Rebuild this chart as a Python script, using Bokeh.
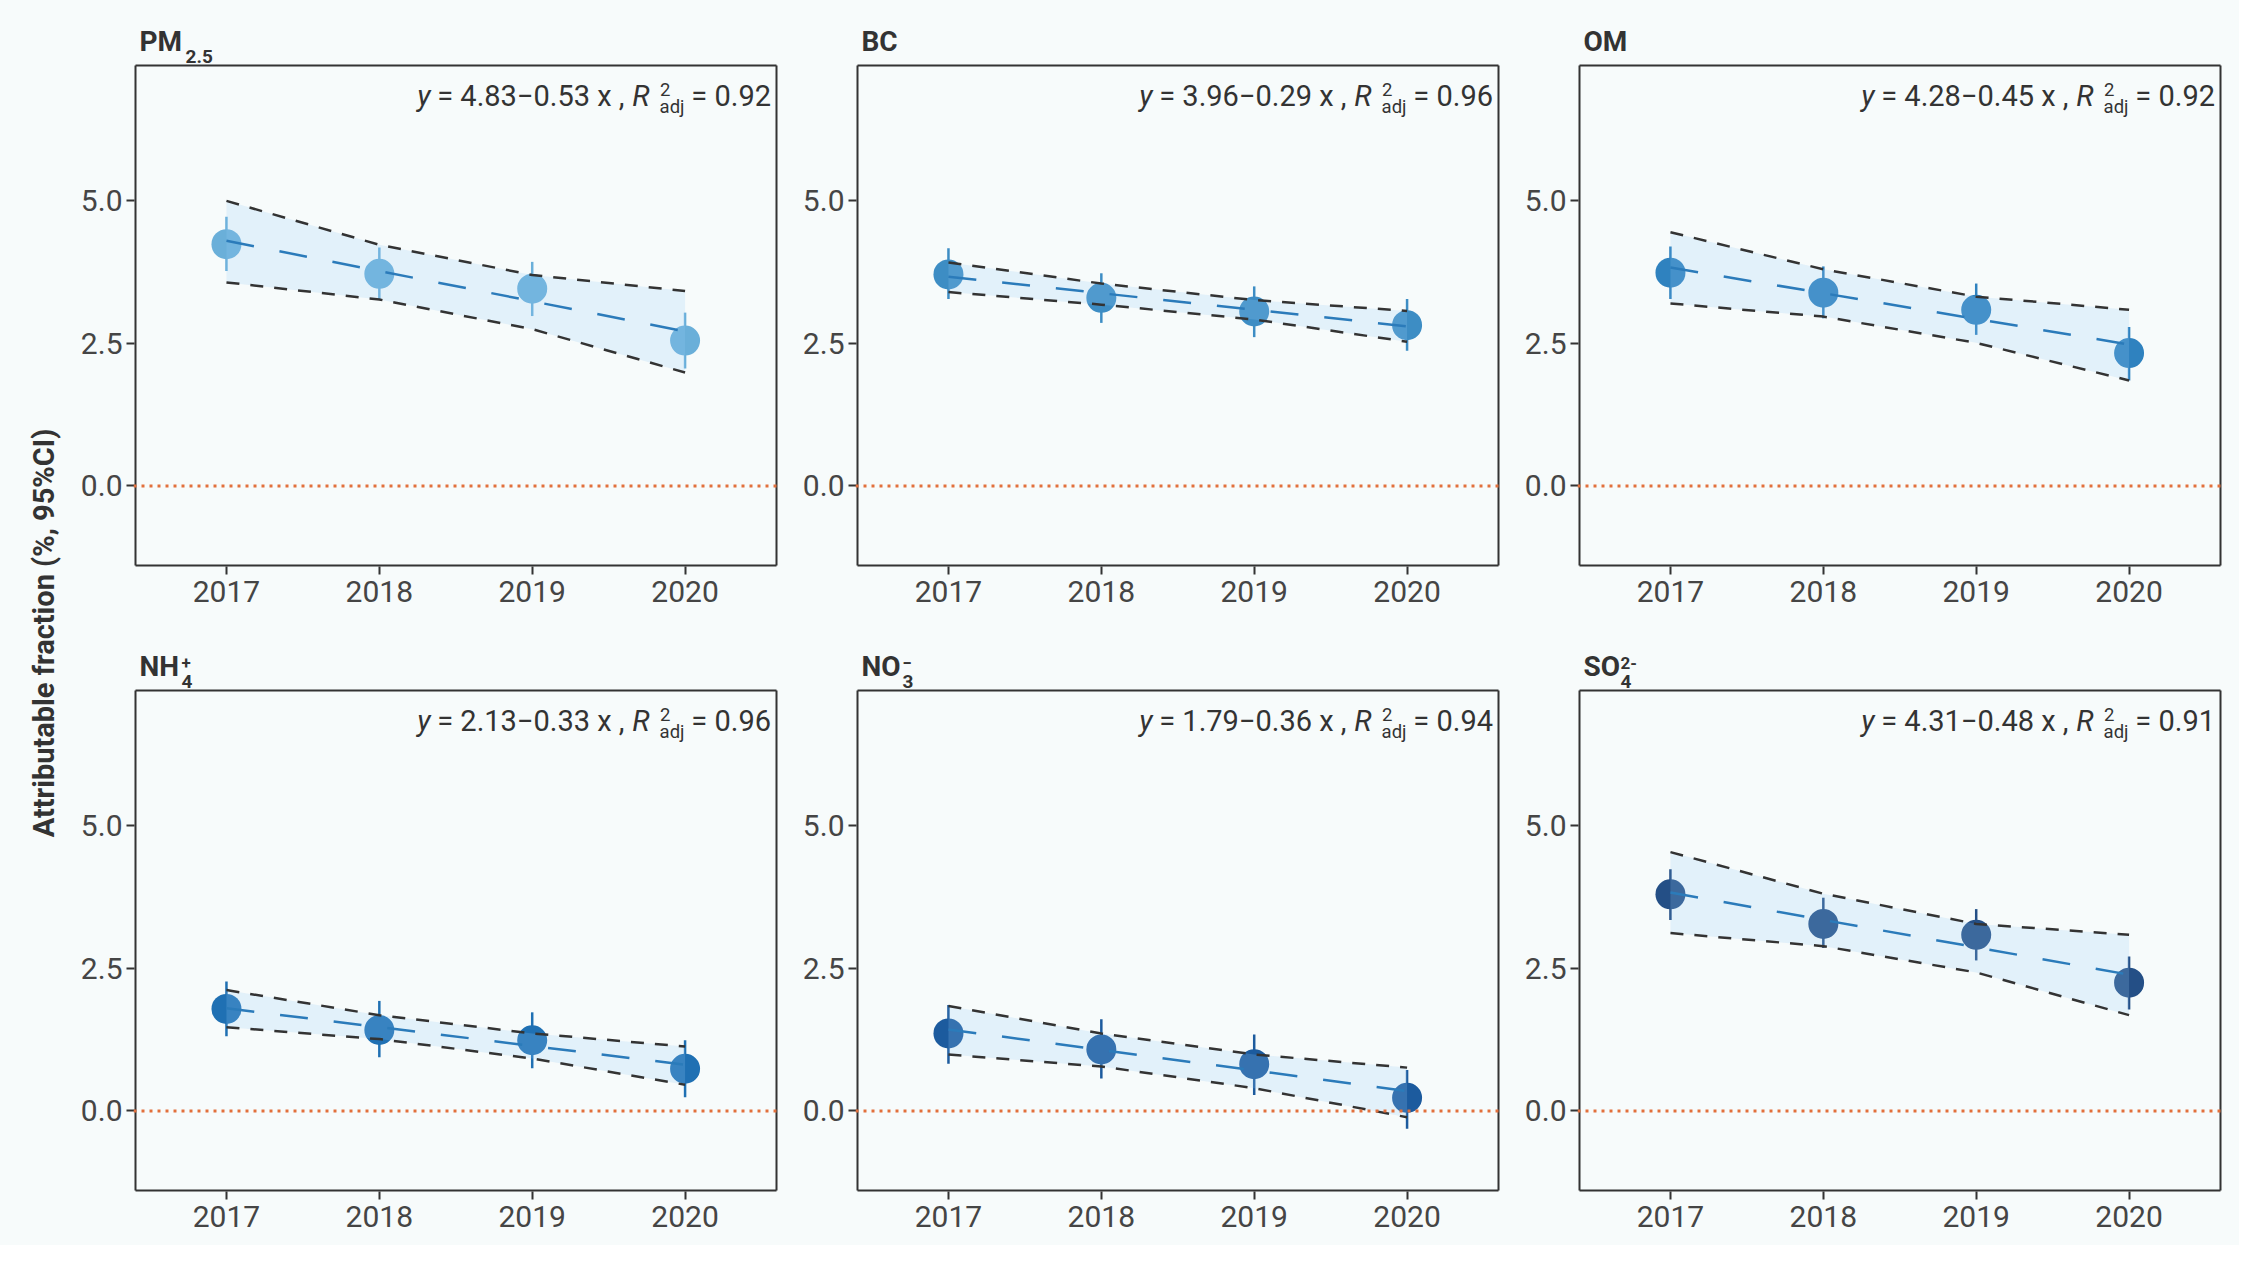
import math
from bokeh.plotting import figure
from bokeh.layouts import row, column
from bokeh.models import FixedTicker, Span, Range1d, NumeralTickFormatter
from bokeh.core.properties import value
from bokeh.embed import file_html
from bokeh.resources import INLINE

# ---- data ----
years = [2017, 2018, 2019, 2020]

titles_main = ["PM", "BC", "OM", "NH", "NO", "SO"]
titles_sup = ["", "", "", "+", "\u2212", "2-"]
titles_sub = ["2.5", "", "", "4", "3", "4"]

eq_int = ["4.83", "3.96", "4.28", "2.13", "1.79", "4.31"]
eq_slope = ["0.53", "0.29", "0.45", "0.33", "0.36", "0.48"]
eq_r2 = ["0.92", "0.96", "0.92", "0.96", "0.94", "0.91"]

pm25_mean = [4.24, 3.72, 3.46, 2.55]
pm25_lo = [3.77, 3.27, 2.98, 2.06]
pm25_hi = [4.72, 4.18, 3.93, 3.04]
pm25_fit = [4.30, 3.77, 3.24, 2.71]
pm25_ci_lo = [3.57, 3.27, 2.75, 1.99]
pm25_ci_hi = [5.00, 4.23, 3.70, 3.42]

bc_mean = [3.71, 3.30, 3.06, 2.82]
bc_lo = [3.28, 2.86, 2.61, 2.37]
bc_hi = [4.17, 3.73, 3.50, 3.28]
bc_fit = [3.67, 3.38, 3.09, 2.80]
bc_ci_lo = [3.40, 3.18, 2.92, 2.53]
bc_ci_hi = [3.92, 3.55, 3.26, 3.07]

om_mean = [3.74, 3.39, 3.09, 2.33]
om_lo = [3.28, 2.94, 2.65, 1.85]
om_hi = [4.20, 3.85, 3.55, 2.79]
om_fit = [3.83, 3.38, 2.93, 2.48]
om_ci_lo = [3.20, 2.97, 2.51, 1.85]
om_ci_hi = [4.45, 3.80, 3.32, 3.09]

nh4_mean = [1.79, 1.42, 1.24, 0.74]
nh4_lo = [1.31, 0.94, 0.75, 0.24]
nh4_hi = [2.27, 1.93, 1.73, 1.24]
nh4_fit = [1.80, 1.47, 1.14, 0.81]
nh4_ci_lo = [1.47, 1.26, 0.92, 0.46]
nh4_ci_hi = [2.12, 1.68, 1.36, 1.13]

no3_mean = [1.36, 1.08, 0.82, 0.23]
no3_lo = [0.83, 0.57, 0.28, -0.31]
no3_hi = [1.86, 1.61, 1.34, 0.72]
no3_fit = [1.43, 1.07, 0.71, 0.35]
no3_ci_lo = [0.99, 0.78, 0.40, -0.11]
no3_ci_hi = [1.84, 1.36, 0.99, 0.76]

so4_mean = [3.80, 3.28, 3.09, 2.25]
so4_lo = [3.35, 2.86, 2.64, 1.78]
so4_hi = [4.24, 3.74, 3.54, 2.71]
so4_fit = [3.83, 3.35, 2.87, 2.39]
so4_ci_lo = [3.12, 2.89, 2.43, 1.68]
so4_ci_hi = [4.54, 3.81, 3.28, 3.09]

y_ticks = [0.0, 2.5, 5.0]

# ---- style ----
BG = "#f7fbfb"
INK = "#333333"
FONT = "Roboto"
point_colors = ["#6aafd9", "#3d8dc4", "#2f82bf", "#1f70b3", "#1c5b9e", "#244f86"]
title_sub_dx = [50, 0, 0, 46, 45, 41]

# panel box (data limits) and its size in pixels
X0, X1 = 2016.405, 2020.598
Y0, Y1 = -1.395, 7.374
BW, BH = 641, 500
UX = (X1 - X0) / BW
UY = (Y1 - Y0) / BH
PAD = 2        # frame reaches 2px past the box on left/right/bottom
TOP = 57       # room for the panel title inside the frame
BASE = 0.34    # baseline correction, in em


def ty(px_above_top, size):
    # data y for a text baseline px_above_top pixels above the box top (negative = below)
    return Y1 + (px_above_top + BASE * size) * UY


def make_panel(i, mean, lo, hi, fit, ci_lo, ci_hi, top, bottom):
    p = figure(frame_width=BW + 2 * PAD, frame_height=BH + TOP + PAD,
               x_range=Range1d(X0 - PAD * UX, X1 + PAD * UX),
               y_range=Range1d(Y0 - PAD * UY, Y1 + TOP * UY),
               toolbar_location=None, output_backend="svg",
               min_border_left=60, min_border_right=17, min_border_top=top, min_border_bottom=bottom)
    p.background_fill_color = BG
    p.border_fill_color = BG
    p.outline_line_color = None
    p.grid.visible = False

    for ax in (p.xaxis, p.yaxis):
        ax.axis_line_color = None
        ax.major_tick_line_color = INK
        ax.major_tick_line_width = 2
        ax.major_tick_out = 7
        ax.major_tick_in = 1
        ax.minor_tick_line_color = None
        ax.major_label_text_font = FONT
        ax.major_label_text_font_size = "30px"
        ax.major_label_text_color = "#454545"
    p.xaxis.major_label_standoff = 6
    p.yaxis.major_label_standoff = 4
    p.xaxis.ticker = FixedTicker(ticks=years)
    p.yaxis.ticker = FixedTicker(ticks=y_ticks)
    p.yaxis.formatter = NumeralTickFormatter(format="0.0")

    # panel border
    p.segment(x0=[X0, X1, X0, X0], y0=[Y0, Y0, Y0, Y1], x1=[X0, X1, X1, X1], y1=[Y1, Y1, Y0, Y1],
              line_color=INK, line_width=2)

    p.add_layout(Span(location=0, dimension="width", line_color="#e2703c",
                      line_dash="3 5", line_width=3))

    col = point_colors[i]
    p.segment(x0=years, y0=lo, x1=years, y1=hi, line_color=col, line_width=2.5)
    p.scatter(years, mean, size=30, fill_color=col, line_color=None)

    p.varea(x=years, y1=ci_lo, y2=ci_hi, fill_color="#96cdf5", fill_alpha=0.21)
    p.line(years, ci_lo, line_color=INK, line_width=2.5, line_dash="13 11")
    p.line(years, ci_hi, line_color=INK, line_width=2.5, line_dash="13 11")
    p.line(years, fit, line_color="#2b7bba", line_width=2.5, line_dash="28 26")

    # regression equation, top right of the box
    eq = dict(text_font=value(FONT), text_color=INK, text_baseline="alphabetic")
    yb = ty(-40, 29)
    p.text(x=[X1 - 5.5 * UX], y=[yb], text=["= " + eq_r2[i]], text_align="right",
           text_font_size="29px", **eq)
    p.text(x=[X1 - 92 * UX], y=[ty(-47.5, 18.5)], text=["adj"], text_align="right",
           text_font_size="18.5px", **eq)
    p.text(x=[X1 - 116.5 * UX], y=[ty(-30.5, 18.5)], text=["2"], text_align="left",
           text_font_size="18.5px", **eq)
    p.text(x=[X1 - 127 * UX], y=[yb], text=["R"], text_align="right",
           text_font_size="29px", text_font_style="italic", **eq)
    p.text(x=[X1 - 152 * UX], y=[yb], text=["= " + eq_int[i] + "\u2212" + eq_slope[i] + " x ,"],
           text_align="right", text_font_size="29px", **eq)
    p.text(x=[X1 - 346 * UX], y=[yb], text=["y"], text_align="right",
           text_font_size="29px", text_font_style="italic", **eq)

    # panel title with sub/superscripts, above the box
    tt = dict(text_font=value(FONT), text_color=INK, text_font_style="bold", text_baseline="alphabetic",
              text_align="left")
    p.text(x=[X0 + 4 * UX], y=[ty(14, 28)], text=[titles_main[i]], text_font_size="28px", **tt)
    if titles_sub[i]:
        p.text(x=[X0 + title_sub_dx[i] * UX], y=[ty(3, 19)], text=[titles_sub[i]],
               text_font_size="19px", **tt)
    if titles_sup[i]:
        p.text(x=[X0 + title_sub_dx[i] * UX], y=[ty(22, 17)], text=[titles_sup[i]],
               text_font_size="17px", **tt)
    return p


panels = [
    make_panel(0, pm25_mean, pm25_lo, pm25_hi, pm25_fit, pm25_ci_lo, pm25_ci_hi, 8, 66),
    make_panel(1, bc_mean, bc_lo, bc_hi, bc_fit, bc_ci_lo, bc_ci_hi, 8, 66),
    make_panel(2, om_mean, om_lo, om_hi, om_fit, om_ci_lo, om_ci_hi, 8, 66),
    make_panel(3, nh4_mean, nh4_lo, nh4_hi, nh4_fit, nh4_ci_lo, nh4_ci_hi, 0, 53),
    make_panel(4, no3_mean, no3_lo, no3_hi, no3_fit, no3_ci_lo, no3_ci_hi, 0, 53),
    make_panel(5, so4_mean, so4_lo, so4_hi, so4_fit, so4_ci_lo, so4_ci_hi, 0, 53),
]

total_h = (8 + BH + TOP + PAD + 66) + (BH + TOP + PAD + 53)
lab = figure(width=73, height=total_h, x_range=(0, 1), y_range=(0, 1), x_axis_type=None, y_axis_type=None,
             toolbar_location=None, output_backend="svg", min_border=0)
lab.background_fill_color = BG
lab.border_fill_color = BG
lab.outline_line_color = None
lab.grid.visible = False
lab.text(x=[0.59], y=[0.492], text=["Attributable fraction (%, 95%CI)"], angle=math.pi / 2,
         text_align="center", text_baseline="middle", text_font=value(FONT), text_font_size="29px",
         text_font_style="bold", text_color=INK)

p = row(lab, column(row(*panels[:3]), row(*panels[3:])))
p.styles = {"background-color": BG}

open("out.html", "w").write(file_html(p, INLINE))
